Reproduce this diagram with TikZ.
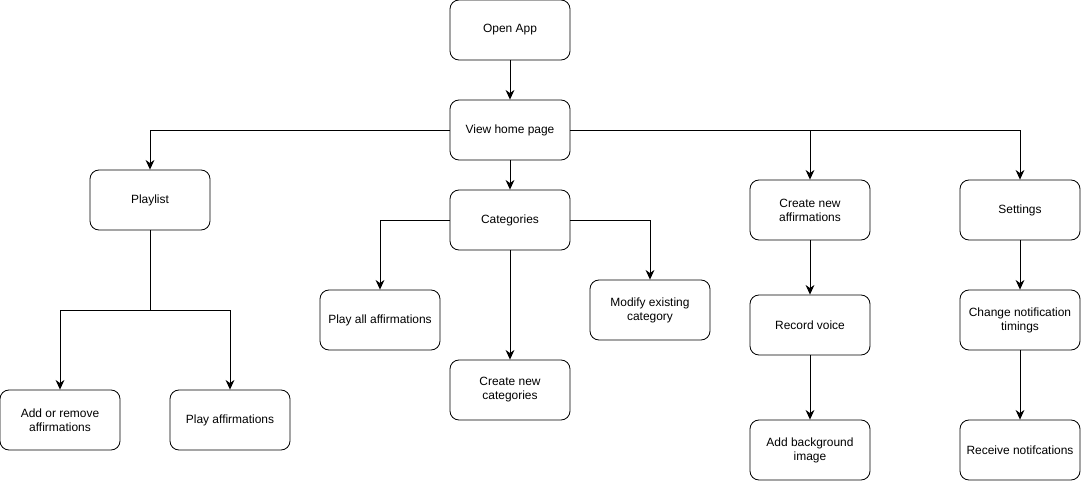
\documentclass[tikz,border=0pt]{standalone}
\usepackage{fontspec}
\setmainfont{Liberation Sans}
\usetikzlibrary{arrows.meta}

\tikzset{
  box/.style={draw, rounded corners=6.4pt, line width=0.6pt, fill=white,
    minimum width=3cm, minimum height=1.5cm, align=center, inner sep=2pt,
    font=\fontsize{8.5}{10}\selectfont},
  flow/.style={line width=0.6pt, -{Stealth[length=2.4mm,width=2.2mm]}},
  plain/.style={line width=0.6pt}
}

\begin{document}
\begin{tikzpicture}[x=0.025cm,y=-0.025cm]
%\draw[step=20,gray,very thin] (0,0) grid (1081,481);
\useasboundingbox (0,0) rectangle (1081,481);

\node[box] (open) at (510,30) {Open App};
\node[box] (home) at (510,130) {View home page};

\node[box] (playlist) at (150,200) {Playlist};
\node[box] (addrem) at (60,420) {Add or remove\\affirmations};
\node[box] (playaff) at (230,420) {Play affirmations};

\node[box] (cat) at (510,220) {Categories};
\node[box] (playall) at (380,320) {Play all affirmations};
\node[box] (newcat) at (510,390) {Create new\\categories};
\node[box] (modify) at (650,310) {Modify existing\\category};

% affirmations and settings
\node[box] (newaff) at (810,210) {Create new\\affirmations};
\node[box] (record) at (810,325) {Record voice};
\node[box] (bgimg) at (810,450) {Add background\\image};

\node[box] (settings) at (1020,210) {Settings};
\node[box] (timing) at (1020,320) {Change notification\\timings};
\node[box] (notif) at (1020,450) {Receive notifcations};

\coordinate (split) at (150,310);

\draw[flow] (open) -- (home);
\draw[flow] (home.west) -| (playlist.north);
\draw[flow] (home) -- (cat);
\draw[flow] (home.east) -| (newaff.north);
\draw[flow] (home.east) -| (settings.north);

\draw[plain] (playlist.south) -- (split);
\draw[flow] (split) -| (addrem.north);
\draw[flow] (split) -| (playaff.north);

\draw[flow] (cat.west) -| (playall.north);
\draw[flow] (cat.east) -| (modify.north);
\draw[flow] (cat) -- (newcat);

\draw[flow] (newaff) -- (record);
\draw[flow] (record) -- (bgimg);
\draw[flow] (settings) -- (timing);
\draw[flow] (timing) -- (notif);

\end{tikzpicture}
\end{document}
